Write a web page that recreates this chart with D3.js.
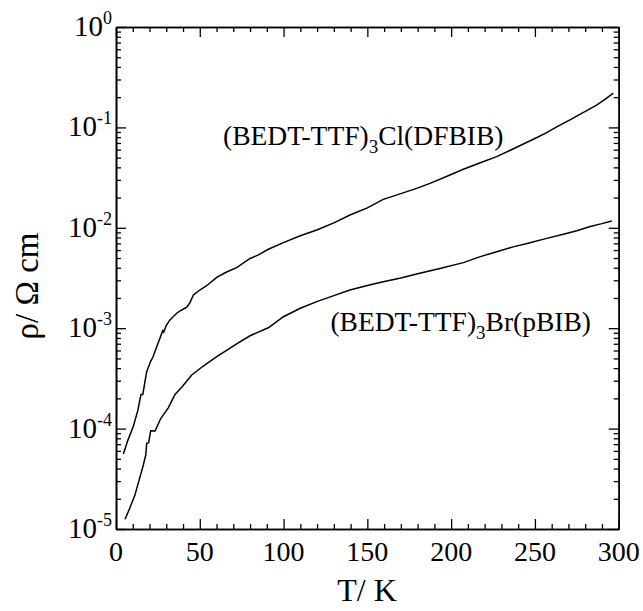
<!DOCTYPE html>
<html><head><meta charset="utf-8">
<script src="https://cdn.jsdelivr.net/npm/d3@7"></script>
<style>body{margin:0;background:#fff} svg{display:block}</style>
</head><body><svg id="c" width="643" height="611" font-family="'Liberation Serif', 'Times New Roman', Tinos, 'DejaVu Serif', serif"></svg>
<script>
// (BEDT-TTF)3Cl(DFBIB)
const tempCl = [4.4,7,10.3,13,14.9,16,18.3,20.7,22,24.3,27.9,28.5,30,32.2,36.2,39,42.2,44,46.2,50,54.1,60.1,66,72,80,85,90.9,99.9,110,119.8,130,139.6,150,159.5,170,179.4,187.4,199.3,207.3,217,227.2,235,243.1,250,257,263,270.9,279,286.8,292,296.8];
const rhoCl = [5.58e-5,7.59e-5,1.05e-4,1.51e-4,2.19e-4,2.19e-4,3.69e-4,4.68e-4,5.13e-4,6.55e-4,9.44e-4,9.12e-4,1.07e-3,1.21e-3,1.41e-3,1.51e-3,1.62e-3,1.78e-3,2.14e-3,2.40e-3,2.65e-3,3.21e-3,3.63e-3,4.01e-3,4.95e-3,5.37e-3,6.11e-3,7.11e-3,8.32e-3,9.51e-3,1.12e-2,1.34e-2,1.58e-2,1.92e-2,2.19e-2,2.47e-2,2.77e-2,3.36e-2,3.83e-2,4.42e-2,5.11e-2,5.89e-2,6.84e-2,7.76e-2,8.87e-2,1.01e-1,1.19e-1,1.41e-1,1.67e-1,1.91e-1,2.19e-1];
// (BEDT-TTF)3Br(pBIB)
const tempBr = [5.4,8,11.3,14,16.3,17.8,18.3,19.5,20.7,23.3,26.7,31.2,35.2,39.2,45.2,52.1,60.1,66,72,80,90.9,99.9,110,119.8,130,139.6,150,159.5,170,179.4,193.3,207.3,217,227.2,237,247.1,257,267,275,283,290,295.8];
const rhoBr = [1.25e-5,1.58e-5,2.18e-5,3.16e-5,4.34e-5,5.50e-5,7.13e-5,7.24e-5,9.53e-5,9.46e-5,1.26e-4,1.61e-4,2.19e-4,2.58e-4,3.42e-4,4.20e-4,5.20e-4,6.03e-4,6.97e-4,8.41e-4,1.01e-3,1.30e-3,1.58e-3,1.84e-3,2.11e-3,2.40e-3,2.66e-3,2.90e-3,3.16e-3,3.47e-3,3.94e-3,4.50e-3,5.13e-3,5.78e-3,6.46e-3,7.11e-3,7.85e-3,8.61e-3,9.33e-3,1.03e-2,1.10e-2,1.17e-2];
const xTickLabels = ["0","50","100","150","200","250","300"];
const xMajor = [0,50,100,150,200,250,300];
const yExponents = ["0","-1","-2","-3","-4","-5"];
const yMajor = [1,1e-1,1e-2,1e-3,1e-4,1e-5];
const labelCl = ["(BEDT-TTF)","3","Cl(DFBIB)"];
const labelBr = ["(BEDT-TTF)","3","Br(pBIB)"];
const xTitle = "T/  K";
const yTitle = "ρ/  Ω cm";

const FONT = "'Liberation Serif', 'Times New Roman', Tinos, 'DejaVu Serif', serif";
const L=116, R=618.7, T=27, B=529;
const svg=d3.select("#c");
const x=d3.scaleLinear().domain([0,300]).range([L,R]);
const y=d3.scaleLog().domain([1e-5,1]).range([B,T]);

const xMinor=d3.range(0,301,10).filter(v=>v%50!==0);
const yMinor=[];
for(let e=-5;e<0;e++) for(let k=2;k<=9;k++) yMinor.push(k*Math.pow(10,e));

function ax(gen, tr){
  const g=svg.append("g").attr("transform",tr).call(gen);
  g.selectAll("text").remove();
  g.selectAll("line").attr("stroke","#000").attr("stroke-width",1.3);
  g.select(".domain").attr("stroke","#000").attr("stroke-width",1.6);
  return g;
}
ax(d3.axisBottom(x).tickValues(xMajor).tickSizeInner(-10).tickSizeOuter(0),`translate(0,${B})`);
ax(d3.axisBottom(x).tickValues(xMinor).tickSizeInner(-5).tickSizeOuter(0),`translate(0,${B})`);
ax(d3.axisTop(x).tickValues(xMajor).tickSizeInner(-10).tickSizeOuter(0),`translate(0,${T})`);
ax(d3.axisTop(x).tickValues(xMinor).tickSizeInner(-5).tickSizeOuter(0),`translate(0,${T})`);
ax(d3.axisLeft(y).tickValues(yMajor).tickSizeInner(-10).tickSizeOuter(0),`translate(${L},0)`);
ax(d3.axisLeft(y).tickValues(yMinor).tickSizeInner(-5).tickSizeOuter(0),`translate(${L},0)`);
ax(d3.axisRight(y).tickValues(yMajor).tickSizeInner(-10).tickSizeOuter(0),`translate(${R},0)`);
ax(d3.axisRight(y).tickValues(yMinor).tickSizeInner(-5).tickSizeOuter(0),`translate(${R},0)`);

// x tick labels
svg.append("g").selectAll("text").data(xMajor).join("text")
  .attr("font-family",FONT)
  .attr("x",d=>x(d)).attr("y",B+32).attr("text-anchor","middle")
  .attr("font-size",28).text((d,i)=>xTickLabels[i]);

// y tick labels
const yl=svg.append("g").selectAll("text").data(yMajor).join("text")
  .attr("font-family",FONT)
  .attr("x",L-4).attr("y",d=>y(d)+9).attr("text-anchor","end").attr("font-size",29);
yl.append("tspan").text("10");
yl.append("tspan").attr("font-size",18).attr("dy",-12).text((d,i)=>yExponents[i]);

// curves
const line=d3.line().x(d=>x(d[0])).y(d=>y(d[1]));
svg.append("path").datum(tempCl.map((t,i)=>[t,rhoCl[i]])).attr("d",line)
  .attr("fill","none").attr("stroke","#000").attr("stroke-width",1.5);
svg.append("path").datum(tempBr.map((t,i)=>[t,rhoBr[i]])).attr("d",line)
  .attr("fill","none").attr("stroke","#000").attr("stroke-width",1.5);

function compound(parts, xp, yp, anchor){
  const t=svg.append("text").attr("font-family",FONT).attr("x",xp).attr("y",yp).attr("font-size",27.5).attr("text-anchor",anchor);
  t.append("tspan").text(parts[0]);
  t.append("tspan").attr("font-size",19).attr("dy",8).text(parts[1]);
  t.append("tspan").attr("dy",-8).text(parts[2]);
}
compound(labelCl, 223, 145, "start");
compound(labelBr, 591, 331, "end");

svg.append("text").attr("font-family",FONT).attr("x",367).attr("y",601).attr("text-anchor","middle")
  .attr("font-size",32).text(xTitle);
svg.append("text").attr("font-family",FONT).attr("transform","translate(38,286) rotate(-90)").attr("text-anchor","middle")
  .attr("font-size",33).text(yTitle);
</script></body></html>
